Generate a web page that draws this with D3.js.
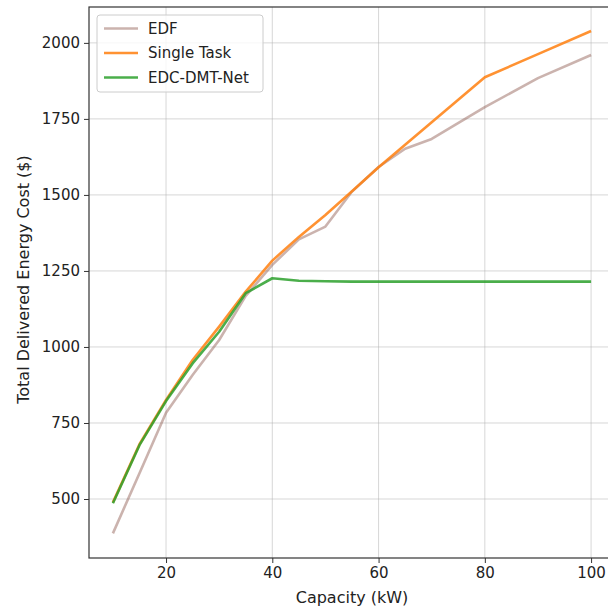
<!DOCTYPE html>
<html>
<head>
<meta charset="utf-8">
<script src="https://cdn.jsdelivr.net/npm/d3@7"></script>
<style>
	body { margin: 0; background: #fff; }
	svg { display: block; font-family: "DejaVu Sans", sans-serif; }
</style>
</head>
<body>
<svg id="chart" width="608" height="610"></svg>
<script>
"use strict";

// capacity (kW)
var capacity = [10, 15, 20, 25, 30, 35, 40, 45, 50, 55, 60, 65, 70, 80, 90, 100];

// total delivered energy cost ($)
var edf = [387, 585, 784, 908, 1023, 1168, 1270, 1354, 1396, 1511, 1592, 1652, 1684, 1789, 1884, 1960];
var singleTask = [489, 680, 826, 957, 1067, 1182, 1284, 1362, 1434, 1512, 1591, 1665, 1739, 1887, 1963, 2039];
var edcDmtNet = [486, 677, 822, 946, 1050, 1177, 1226, 1218, 1216, 1215, 1215, 1215, 1215, 1215, 1215, 1215];

var yTicks = [500, 750, 1000, 1250, 1500, 1750, 2000];
var xTicks = [20, 40, 60, 80, 100];

var series = [
	{ name: "EDF", values: edf, color: "#8c564b", opacity: 0.45 },
	{ name: "Single Task", values: singleTask, color: "#ff7f0e", opacity: 0.85 },
	{ name: "EDC-DMT-Net", values: edcDmtNet, color: "#2ca02c", opacity: 0.85 }
];

var margin = { left: 89, top: 7, right: -7, bottom: 52 },
	width = 608 - margin.left - margin.right,
	height = 610 - margin.top - margin.bottom;

var svg = d3.select("#chart");
var g = svg.append("g").attr("transform", "translate(" + margin.left + "," + margin.top + ")");

var x = d3.scaleLinear().domain([5.5, 104.5]).range([0, width]);
var y = d3.scaleLinear().domain([306, 2118]).range([height, 0]);

// grid
g.append("g").selectAll("line").data(xTicks).enter().append("line")
	.attr("x1", function (d) { return x(d); }).attr("x2", function (d) { return x(d); })
	.attr("y1", 0).attr("y2", height)
	.attr("stroke", "#b0b0b0").attr("stroke-opacity", 0.5).attr("stroke-width", 1);
g.append("g").selectAll("line").data(yTicks).enter().append("line")
	.attr("y1", function (d) { return y(d); }).attr("y2", function (d) { return y(d); })
	.attr("x1", 0).attr("x2", width)
	.attr("stroke", "#b0b0b0").attr("stroke-opacity", 0.5).attr("stroke-width", 1);

// lines
var line = d3.line()
	.x(function (d, i) { return x(capacity[i]); })
	.y(function (d) { return y(d); });

g.selectAll(".series").data(series).enter().append("path")
	.attr("class", "series")
	.attr("d", function (s) { return line(s.values); })
	.attr("fill", "none")
	.attr("stroke", function (s) { return s.color; })
	.attr("stroke-opacity", function (s) { return s.opacity; })
	.attr("stroke-width", 2.6)
	.attr("stroke-linejoin", "round");

// axes
var xAxis = g.append("g").attr("transform", "translate(0," + height + ")")
	.call(d3.axisBottom(x).tickValues(xTicks).tickFormat(d3.format("d")).tickSize(5).tickPadding(4));
var yAxis = g.append("g")
	.call(d3.axisLeft(y).tickValues(yTicks).tickFormat(d3.format("d")).tickSize(5).tickPadding(4));

[xAxis, yAxis].forEach(function (a) {
	a.select(".domain").remove();
	a.selectAll("text").attr("font-size", 15).attr("fill", "#222").attr("font-family", "DejaVu Sans, sans-serif");
	a.selectAll("line").attr("stroke", "#333").attr("stroke-width", 1);
});

// spines
g.append("rect")
	.attr("x", 0).attr("y", 0).attr("width", width).attr("height", height)
	.attr("fill", "none").attr("stroke", "#333").attr("stroke-width", 1.2);

// axis labels
svg.append("text")
	.attr("x", margin.left + x(55)).attr("y", 603)
	.attr("text-anchor", "middle").attr("font-size", 16).attr("fill", "#222")
	.text("Capacity (kW)");
svg.append("text")
	.attr("transform", "translate(29," + (margin.top + height / 2 - 3) + ") rotate(-90)")
	.attr("text-anchor", "middle").attr("font-size", 16).attr("fill", "#222")
	.text("Total Delivered Energy Cost ($)");

// legend
var legend = g.append("g").attr("transform", "translate(8,8)");
legend.append("rect")
	.attr("width", 166).attr("height", 77).attr("rx", 3)
	.attr("fill", "#fff").attr("fill-opacity", 0.8)
	.attr("stroke", "#ccc").attr("stroke-width", 1);
var item = legend.selectAll(".item").data(series).enter().append("g")
	.attr("transform", function (d, i) { return "translate(0," + (13.5 + i * 24.5) + ")"; });
item.append("line")
	.attr("x1", 7).attr("x2", 41)
	.attr("stroke", function (s) { return s.color; })
	.attr("stroke-opacity", function (s) { return s.opacity; })
	.attr("stroke-width", 2.6);
item.append("text")
	.attr("x", 51).attr("dy", "0.35em")
	.attr("font-size", 15).attr("fill", "#222")
	.text(function (s) { return s.name; });
</script>
</body>
</html>
